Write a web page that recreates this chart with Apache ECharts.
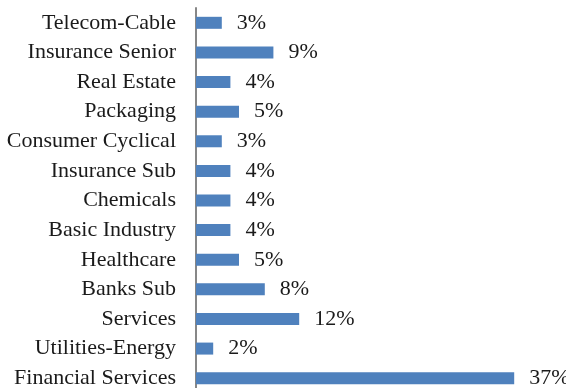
<!DOCTYPE html>
<html>
<head>
<meta charset="utf-8">
<script src="https://cdn.jsdelivr.net/npm/echarts@6/dist/echarts.min.js"></script>
<style>
html,body{margin:0;padding:0;background:#fff;}
#chart{width:566px;height:388px;}
</style>
</head>
<body>
<div id="chart"></div>
<script>
const categories = ["Telecom-Cable","Insurance Senior","Real Estate","Packaging","Consumer Cyclical","Insurance Sub","Chemicals","Basic Industry","Healthcare","Banks Sub","Services","Utilities-Energy","Financial Services"];
const values = [3, 9, 4, 5, 3, 4, 4, 4, 5, 8, 12, 2, 37];

const chart = echarts.init(document.getElementById('chart'), null, {renderer:'canvas'});
const font = '"Liberation Serif", "DejaVu Serif", serif';
chart.setOption({
  animation: false,
  backgroundColor: '#ffffff',
  grid: {left: 196, right: 26, top: 8, height: 385, containLabel: false, outerBoundsMode: 'none'},
  xAxis: {
    type: 'value', min: 0, max: 40,
    show: false
  },
  yAxis: {
    type: 'category', data: categories, inverse: true,
    axisLine: {show: true, lineStyle: {color: '#878787', width: 2}},
    axisTick: {show: false},
    axisLabel: {color: '#1a1a1a', fontFamily: font, fontSize: 22, margin: 20}
  },
  series: [{
    type: 'bar', data: values, barWidth: 12,
    itemStyle: {color: '#4F81BD'},
    label: {show: true, position: 'right', distance: 15, formatter: '{c}%',
            color: '#1a1a1a', fontFamily: font, fontSize: 22}
  }]
});
</script>
</body>
</html>
